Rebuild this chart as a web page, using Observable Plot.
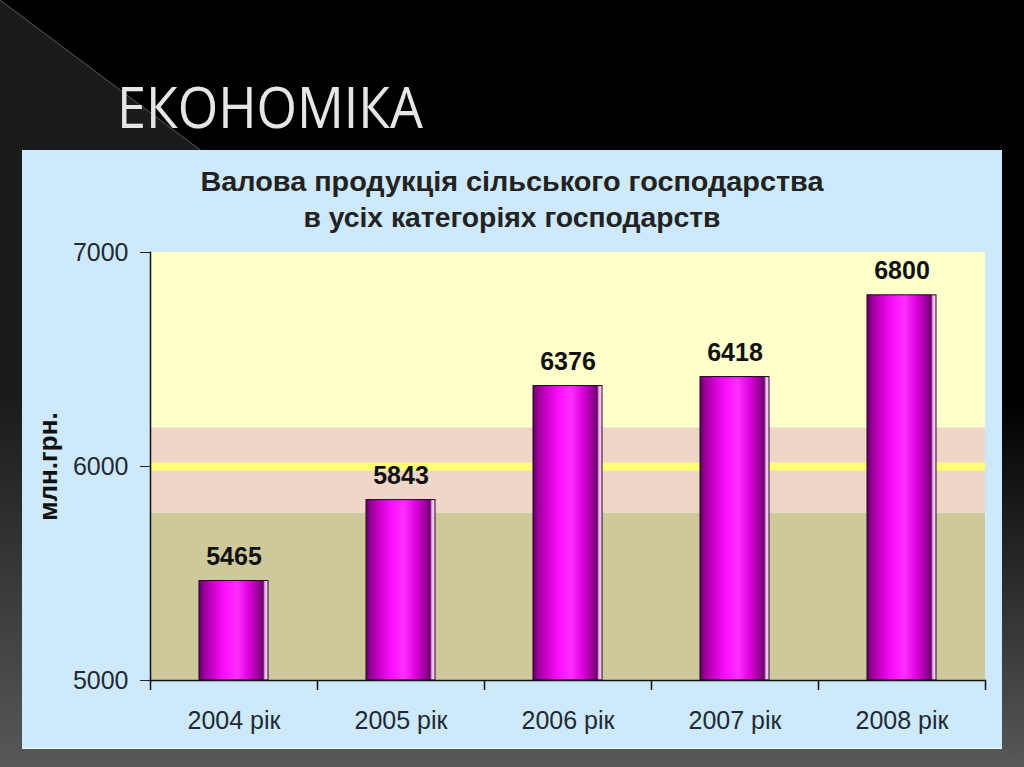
<!DOCTYPE html>
<html>
<head>
<meta charset="utf-8">
<script src="https://cdn.jsdelivr.net/npm/d3@7"></script>
<script src="https://cdn.jsdelivr.net/npm/@observablehq/plot@0.6"></script>
<style>
  html, body { margin: 0; padding: 0; }
  body { width: 1024px; height: 767px; background: #000; position: relative; overflow: hidden; font-family: "Liberation Sans", Arial, sans-serif; }
  #tri { position: absolute; left: 0; top: 0; width: 1024px; height: 767px; background: #1b1b1b; clip-path: polygon(0 0, 1024px 767px, 0 767px); }
  #diag { position: absolute; left: 0; top: 0; width: 1024px; height: 767px; }
  #shade { position: absolute; left: 0; top: 0; width: 1024px; height: 767px; background: linear-gradient(to bottom, rgba(88,88,88,0) 52%, rgba(88,88,88,1) 100%); }
  #slideTitle { position: absolute; left: 117px; top: 78px; font-family: "Open Sans", sans-serif; font-size: 56px; line-height: 56px; color: #e6e6e6; white-space: nowrap; transform-origin: 0 0; }
  #panel { position: absolute; left: 22px; top: 150px; width: 980px; height: 598px; background: #cde9fb; border-bottom: 1px solid #eef6fb; }
  .ttl { position: absolute; left: 0; width: 980px; text-align: center; font-weight: bold; font-size: 27px; color: #222; line-height: 36px; }
  .ttl span { display: inline-block; white-space: nowrap; transform-origin: 50% 50%; }
  #chart { position: absolute; left: 0; top: 80px; }
</style>
</head>
<body>
<div id="tri"></div>
<svg id="diag" width="1024" height="767"><line x1="0" y1="0" x2="1024" y2="767" stroke="#5a5a5a" stroke-width="1"/></svg>
<div id="shade"></div>
<div id="slideTitle">ЕКОНОМІКА</div>
<div id="panel">
  <div class="ttl" style="top:14px"><span id="t1">Валова продукція сільського господарства</span></div>
  <div class="ttl" style="top:50px"><span id="t2">в усіх категоріях господарств</span></div>
  <div id="chart"></div>
</div>
<script>
// ---- data ----
const years = ["2004 рік", "2005 рік", "2006 рік", "2007 рік", "2008 рік"];
const values = [5465, 5843, 6376, 6418, 6800];
const yTicks = [5000, 6000, 7000];
const bandLow = [5000, 5780, 6180];
const bandHigh = [5780, 6180, 7000];
const refLine = [6000];
const yLabel = "млн.грн.";

// ---- styles / layout ----
const bandColors = ["#cdc99b", "#efd6c7", "#ffffcc"];
const W = 980, H = 518, ML = 128, MR = 17, MT = 22, MB = 68;
const step = (W - ML - MR) / years.length;
const plotH = H - MT - MB;

const rows = years.map((year, i) => ({year, value: values[i]}));
const bands = bandLow.map((lo, i) => ({lo, hi: bandHigh[i], color: bandColors[i]}));

const chart = Plot.plot({
  width: W, height: H,
  marginLeft: ML, marginRight: MR, marginTop: MT, marginBottom: MB,
  style: {background: "transparent", color: "#1e2a36", fontFamily: "'Liberation Sans', Arial, sans-serif", overflow: "visible"},
  x: {type: "band", domain: years, padding: 0, label: null},
  y: {domain: [5000, 7000], label: null},
  marks: [
    Plot.rectY(bands, {y1: "lo", y2: "hi", fill: "color"}),
    Plot.ruleY(refLine, {stroke: "#ffff78", strokeWidth: 8}),
    Plot.barY(rows, {x: "year", y1: 5000, y2: "value", fill: "url(#barGrad)", stroke: "#2a002a", strokeWidth: 1, insetLeft: 49, insetRight: 49}),
    Plot.frame({anchor: "left", stroke: "#111", strokeWidth: 1.5}),
    Plot.frame({anchor: "bottom", stroke: "#111", strokeWidth: 1.5}),
    Plot.ruleX(years, {dx: -step / 2, insetTop: plotH, insetBottom: -10, stroke: "#111", strokeWidth: 1.5}),
    Plot.ruleX([years[years.length - 1]], {dx: step / 2, insetTop: plotH, insetBottom: -10, stroke: "#111", strokeWidth: 1.5}),
    Plot.axisY({ticks: yTicks, tickSize: 10, tickPadding: 12, fontSize: 25, tickFormat: d => String(d), label: null}),
    Plot.axisX({tickSize: 0, tickPadding: 31, fontSize: 25, label: null}),
    Plot.text(rows, {x: "year", y: "value", text: d => String(d.value), dy: -24, lineAnchor: "middle", fontSize: 25, fontWeight: "bold", fill: "#111"}),
    Plot.text([yLabel], {frameAnchor: "left", dx: -102, rotate: -90, textAnchor: "middle", lineAnchor: "middle", fontSize: 26, fontWeight: "bold", fill: "#111"})
  ]
});

const defs = d3.select(chart).insert("defs", ":first-child");
const g = defs.append("linearGradient").attr("id", "barGrad").attr("x1", 0).attr("x2", 1).attr("y1", 0).attr("y2", 0);
[[0, "#5c005c"], [0.07, "#990099"], [0.2, "#cc00cc"], [0.38, "#ff10ff"], [0.55, "#ff30ff"], [0.72, "#dd00dd"], [0.86, "#990099"], [0.93, "#6a006a"], [0.955, "#e8b8e8"], [1, "#f6d6f6"]]
  .forEach(([o, c]) => g.append("stop").attr("offset", o).attr("stop-color", c));

document.getElementById("chart").appendChild(chart);

// fit text widths to reference
function fit(id, target) {
  const el = document.getElementById(id);
  const w = el.getBoundingClientRect().width;
  el.style.transform = `scaleX(${target / w})`;
}
fit("t1", 623);
fit("t2", 417);
const st = document.getElementById("slideTitle");
st.style.transform = `scaleX(${306 / st.getBoundingClientRect().width})`;
</script>
</body>
</html>
